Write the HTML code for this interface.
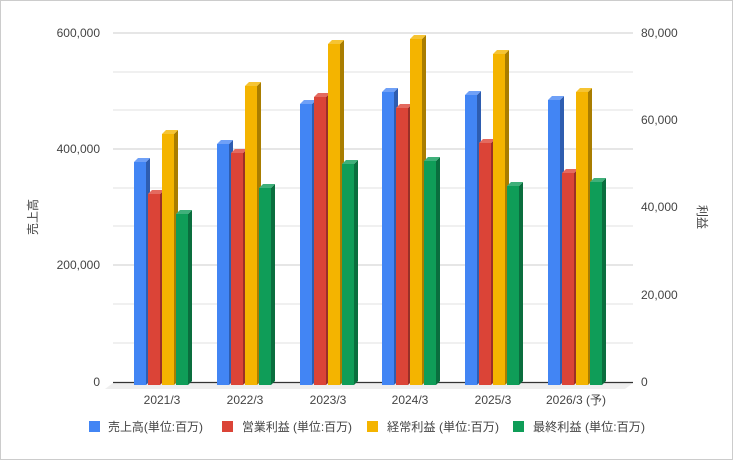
<!DOCTYPE html>
<html><head><meta charset="utf-8"><style>
body{margin:0;background:#fff;}
svg text{font-family:"Liberation Sans","Noto Sans CJK JP",sans-serif;fill:#444;}
</style></head><body>
<svg width="733" height="460" xmlns="http://www.w3.org/2000/svg">
<rect x="0.5" y="0.5" width="732" height="459" fill="#fff" stroke="#ccc"/>
<g stroke="#e0e0e0" stroke-width="1">
<line x1="113" x2="633" y1="72" y2="72"/><line x1="113" x2="633" y1="110" y2="110"/>
<line x1="113" x2="633" y1="188" y2="188"/><line x1="113" x2="633" y1="226" y2="226"/>
<line x1="113" x2="633" y1="304" y2="304"/><line x1="113" x2="633" y1="343" y2="343"/>
</g>
<g stroke="#ccc" stroke-width="1">
<line x1="113" x2="633" y1="33" y2="33"/><line x1="113" x2="633" y1="149" y2="149"/><line x1="113" x2="633" y1="265" y2="265"/>
</g>
<polygon points="113,383 633,383 625,389 105,389" fill="#eee"/>
<line x1="113" x2="633" y1="382.5" y2="382.5" stroke="#333" stroke-width="1.2"/>
<g id="bars"></g>
<g font-size="12" text-anchor="end">
<text x="100" y="37">600,000</text><text x="100" y="153">400,000</text><text x="100" y="269">200,000</text><text x="100" y="386">0</text>
</g>
<g font-size="12" text-anchor="start">
<text x="641" y="37">80,000</text><text x="641" y="124">60,000</text><text x="641" y="211">40,000</text><text x="641" y="299">20,000</text><text x="641" y="386">0</text>
</g>
<g font-size="12" text-anchor="middle">
<text x="162" y="404">2021/3</text><text x="245" y="404">2022/3</text><text x="328" y="404">2023/3</text><text x="410" y="404">2024/3</text><text x="493" y="404">2025/3</text><text x="576" y="404">2026/3 (予)</text>
</g>
<text font-size="12" transform="translate(37,217) rotate(-90)" text-anchor="middle">売上高</text>
<text font-size="12" transform="translate(698,217) rotate(90)" text-anchor="middle">利益</text>
<g font-size="12">
<rect x="89" y="421" width="11" height="11" fill="#4285f4"/><text x="108" y="431" textLength="95" lengthAdjust="spacingAndGlyphs">売上高(単位:百万)</text>
<rect x="222" y="421" width="11" height="11" fill="#db4437"/><text x="242" y="431" textLength="110" lengthAdjust="spacingAndGlyphs">営業利益 (単位:百万)</text>
<rect x="367" y="421" width="11" height="11" fill="#f4b400"/><text x="387" y="431" textLength="112" lengthAdjust="spacingAndGlyphs">経常利益 (単位:百万)</text>
<rect x="513" y="421" width="11" height="11" fill="#0f9d58"/><text x="533" y="431" textLength="112" lengthAdjust="spacingAndGlyphs">最終利益 (単位:百万)</text>
</g>
</svg>
<script>
const cols=[["#4285f4","#2e5db0","#6fa0f7"],["#db4437","#9a2f27","#e46a5f"],["#f4b400","#a97d00","#f6c433"],["#0f9d58","#0a6e3e","#3fb07a"]];
const tops=[[162,194,134,214],[144,153,86,188],[104,97,44,164],[92,108,39,161],[95,143,54,186],[100,173,92,182]];
const centers=[162,245,328,410,493,576];
let s="";
tops.forEach((g,i)=>{g.forEach((t,j)=>{const x=centers[i]-28+j*14,b=385,w=12,d=4;const c=cols[j];
s+=`<polygon points="${x+w},${t} ${x+w+d},${t-d} ${x+w+d},${b-d} ${x+w},${b}" fill="${c[1]}"/>`;
s+=`<polygon points="${x},${t} ${x+d},${t-d} ${x+w+d},${t-d} ${x+w},${t}" fill="${c[2]}"/>`;
s+=`<rect x="${x}" y="${t}" width="${w}" height="${b-t}" fill="${c[0]}"/>`;});});
document.getElementById("bars").innerHTML=s;
</script>
</body></html>
